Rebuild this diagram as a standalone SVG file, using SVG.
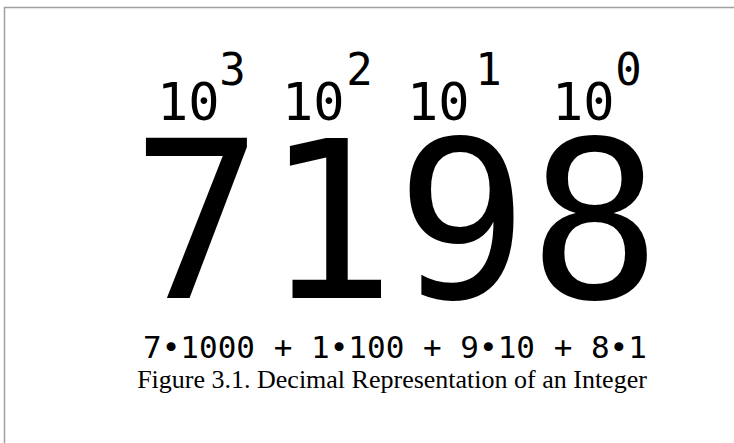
<svg xmlns="http://www.w3.org/2000/svg" width="734" height="443" viewBox="0 0 734 443">
  <style>
    .mono { font-family: "DejaVu Sans Mono", monospace; fill: #000; }
    .big { font-family: "DejaVu Sans Mono", monospace; font-size: 220px; fill: #000; }
    .base { font-size: 52px; }
    .sup { font-size: 44px; }
    .formula { font-size: 31px; }
    .caption { font-family: "Liberation Serif", "DejaVu Serif", serif; font-size: 26px; fill: #000; }
  </style>
  <rect x="0" y="0" width="734" height="443" fill="#fff"/>
  <g id="frame">
    <path d="M4.5 443 V7.5 H734" fill="none" stroke="#a0a0a0" stroke-width="1.5"/>
  </g>
  <g id="power-3"><text class="mono base" x="157" y="120">10<tspan class="sup" dx="-0.5" dy="-35">3</tspan></text></g>
  <g id="power-2"><text class="mono base" x="282" y="120">10<tspan class="sup" dx="1.5" dy="-35">2</tspan></text></g>
  <g id="power-1"><text class="mono base" x="407" y="120">10<tspan class="sup" dx="5.5" dy="-35">1</tspan></text></g>
  <g id="power-0"><text class="mono base" x="552" y="120">10<tspan class="sup" dx="0.5" dy="-35">0</tspan></text></g>
  <g id="number">
    <text class="big" x="396" y="298" text-anchor="middle">7198</text>
  </g>
  <g id="expansion">
    <text class="mono formula" x="395" y="358" text-anchor="middle">7•1000 + 1•100 + 9•10 + 8•1</text>
  </g>
  <g id="caption-group">
    <text class="caption" x="392" y="388" text-anchor="middle">Figure 3.1. Decimal Representation of an Integer</text>
  </g>
</svg>
